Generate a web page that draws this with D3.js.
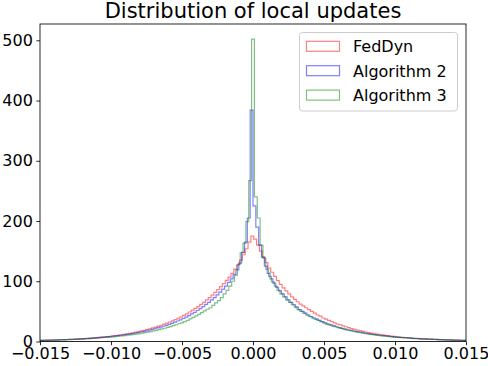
<!DOCTYPE html>
<html><head><meta charset="utf-8">
<script src="https://cdn.jsdelivr.net/npm/d3@7"></script>
<style>body{margin:0;background:#fff}svg{display:block}</style>
</head><body><div id="chart"></div>
<script>
const title = "Distribution of local updates";
const seriesNames = ["FedDyn", "Algorithm 2", "Algorithm 3"];
const seriesColors = ["red", "blue", "green"];
const binWidth = 0.0002;
const binStarts = [-0.01515, -0.0152, -0.0151];
const xTicks = [-0.015, -0.010, -0.005, 0.000, 0.005, 0.010, 0.015];
const yTicks = [0, 100, 200, 300, 400, 500];

const fedDyn = [
 1.8,1.9,2,2.1,2.2,2.4,2.5,2.7,2.9,3.1,
 3.3,3.5,3.7,3.9,4.2,4.5,4.8,5.1,5.5,5.9,
 6.3,6.7,7.2,7.7,8.2,8.7,9.3,9.9,10.5,11.2,
 12,12.8,13.6,14.5,15.5,16.5,17.6,18.7,19.9,21.2,
 22.5,24,25.5,27,28.7,30.5,32.4,34.4,36.5,38.7,
 41,43.5,46,49,52,55,58,61.5,65,69,
 73,77,81.5,86,91,96,101.5,107,113,120,
 127,135,144,154,165,
 175,
 170,160,150,140,131,122,115,108,101,95,
 89,84,79,74,70,66,62,59,56,53,
 50,47,44,42,39,37,35,33,31,29,
 27.5,26,24.5,23,21.5,20,19,18,16.8,15.8,
 14.8,14,13.2,12.4,11.6,10.9,10.2,9.6,9,8.4,
 7.9,7.4,7,6.6,6.2,5.8,5.4,5.1,4.8,4.5,
 4.2,4,3.8,3.6,3.4,3.2,3,2.8,2.6,2.5,
 2.3,2.2,2.1,2,1.9
];
const algorithm2 = [
 1.9,2,2.1,2.2,2.3,2.5,2.6,2.8,2.9,3.1,
 3.3,3.5,3.7,3.9,4.1,4.4,4.7,5,5.3,5.6,
 6,6.4,6.8,7.2,7.7,8.2,8.7,9.2,9.8,10.4,
 11,11.7,12.4,13.2,14,14.9,15.8,16.8,17.8,18.9,
 20,21.2,22.5,23.9,25.3,26.8,28.4,30.1,32,34,
 36,38.2,40.5,43,45.7,48.5,51.5,54.7,58,61.5,
 65,69,73,77.5,82,87,92,98,104,111,
 119,130,148,165,205,
 384,
 225,190,160,140,125,113,104,97,90,84,
 79,74,69,65,61,57,53,50,47,44,
 41.5,39,37,35,33,31,29,27.5,26,24.5,
 23,21.8,20.6,19.5,18.4,17.4,16.4,15.5,14.6,13.8,
 13,12.3,11.6,11,10.4,9.8,9.3,8.8,8.3,7.8,
 7.4,7,6.6,6.2,5.9,5.6,5.3,5,4.7,4.5,
 4.2,4,3.8,3.6,3.4,3.2,3,2.9,2.7,2.6,
 2.4,2.3,2.2,2.1,2
];
const algorithm3 = [
 1.7,1.8,1.9,2,2.1,2.2,2.4,2.5,2.7,2.8,
 3,3.2,3.4,3.6,3.8,4,4.2,4.5,4.8,5.1,
 5.4,5.8,6.2,6.6,7,7.4,7.8,8.3,8.8,9.3,
 9.8,10.4,11,11.7,12.4,13.1,13.9,14.7,15.6,16.5,
 17.5,18.5,19.6,20.8,22,23.3,24.7,26.2,27.8,29.5,
 31,33,35,37.5,40,42.5,45,48,51,53.5,
 56,60,64,68,73,79,85,92,100,110,
 128,147,163,199,267,
 502,
 240,205,160,138,120,108,99,92,85,79,
 74,69,65,61,57,53,50,47,44,41.5,
 39,37,35,33,31,29,27.5,26,24.5,23,
 21.7,20.5,19.4,18.3,17.3,16.3,15.4,14.5,13.7,12.9,
 12.2,11.5,10.9,10.3,9.7,9.2,8.7,8.2,7.7,7.3,
 6.9,6.5,6.1,5.8,5.5,5.2,4.9,4.6,4.4,4.1,
 3.9,3.7,3.5,3.3,3.1,2.9,2.8,2.6,2.5,2.3,
 2.2,2.1,2,1.9,1.8
];
const seriesValues = [fedDyn, algorithm2, algorithm3];

const W = 488, H = 366;
const L = 40, R = 466, T = 24, B = 341.5;
const font = "DejaVu Sans, sans-serif";

const svg = d3.select("#chart").append("svg").attr("width", W).attr("height", H)
  .style("font-family", font);

const x = d3.scaleLinear().domain([-0.015, 0.015]).range([L, R]);
const y = d3.scaleLinear().domain([0, 527.1]).range([B, T]);

svg.append("defs").append("clipPath").attr("id", "clip")
  .append("rect").attr("x", L).attr("y", T).attr("width", R - L).attr("height", B - T);

const plot = svg.append("g").attr("clip-path", "url(#clip)");

seriesValues.forEach((vals, si) => {
  const start = binStarts[si];
  const p = d3.path();
  p.moveTo(x(start), y(0));
  vals.forEach((v, i) => {
    const e0 = start + i * binWidth, e1 = start + (i + 1) * binWidth;
    p.lineTo(x(e0), y(v));
    p.lineTo(x(e1), y(v));
  });
  p.lineTo(x(start + vals.length * binWidth), y(0));
  plot.append("path").attr("d", p.toString())
    .attr("fill", "none").attr("stroke", seriesColors[si])
    .attr("stroke-opacity", 0.5).attr("stroke-width", 1.2)
    .attr("stroke-linejoin", "miter");
});

// axes
const fmt = d3.format(".3f");
const xAxis = d3.axisBottom(x).tickValues(xTicks).tickFormat(fmt).tickSize(3.7).tickSizeOuter(0).tickPadding(2);
const gx = svg.append("g").attr("transform", `translate(0,${B})`).call(xAxis);
gx.select(".domain").remove();
gx.selectAll("text").attr("font-size", 16).attr("font-family", font).attr("fill", "#000");
gx.selectAll("line").attr("stroke", "#000").attr("stroke-width", 0.85);

const yAxis = d3.axisLeft(y).tickValues(yTicks).tickFormat(d3.format("d")).tickSize(3.7).tickSizeOuter(0).tickPadding(3.5);
const gy = svg.append("g").attr("transform", `translate(${L},0)`).call(yAxis);
gy.select(".domain").remove();
gy.selectAll("text").attr("font-size", 16).attr("font-family", font).attr("fill", "#000");
gy.selectAll("line").attr("stroke", "#000").attr("stroke-width", 0.85);

// frame
svg.append("rect").attr("x", L).attr("y", T).attr("width", R - L).attr("height", B - T)
  .attr("fill", "none").attr("stroke", "#000").attr("stroke-width", 0.85);

// title
svg.append("text").attr("x", (L + R) / 2).attr("y", 18).attr("text-anchor", "middle")
  .attr("font-size", 21).attr("fill", "#000").text(title);

// legend
const lg = svg.append("g");
lg.append("rect").attr("x", 299.5).attr("y", 32.5).attr("width", 158).attr("height", 78.5)
  .attr("rx", 3).attr("fill", "#fff").attr("fill-opacity", 0.8).attr("stroke", "#ccc").attr("stroke-width", 1);
seriesNames.forEach((name, i) => {
  const cy = 46.3 + i * 24.4;
  lg.append("rect").attr("x", 306.5).attr("y", cy - 5).attr("width", 33).attr("height", 10)
    .attr("fill", "none").attr("stroke", seriesColors[i]).attr("stroke-opacity", 0.5).attr("stroke-width", 1.2);
  lg.append("text").attr("x", 353).attr("y", cy + 5.8).attr("font-size", 16).attr("fill", "#000").text(name);
});
</script></body></html>
